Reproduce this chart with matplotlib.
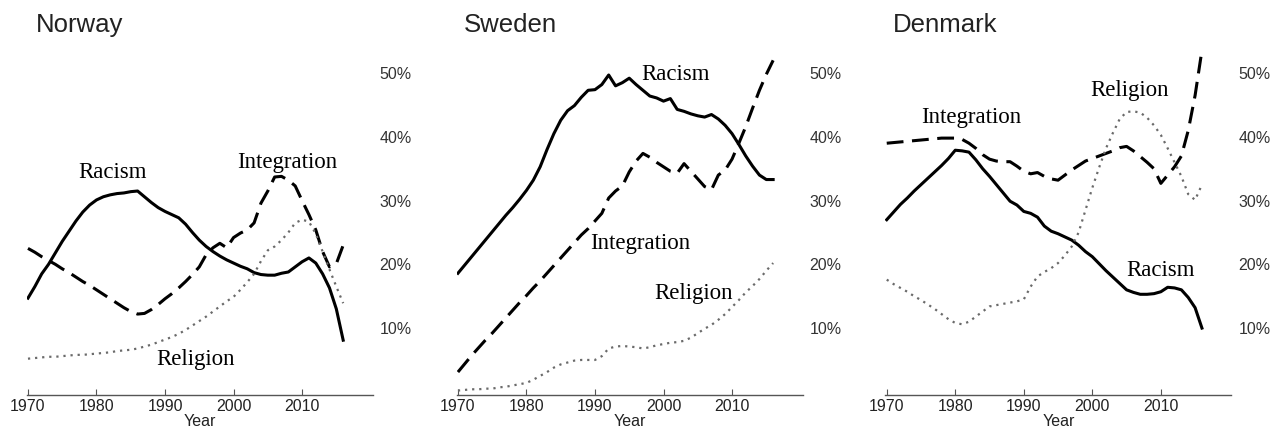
import matplotlib
matplotlib.use('Agg')
import matplotlib.pyplot as plt
import numpy as np

years = list(range(1970, 2017))

# Norway
no_racism = [14.7, 16.5, 18.5, 20.0, 21.8, 23.6, 25.2, 26.8, 28.2, 29.3,
             30.1, 30.6, 30.9, 31.1, 31.2, 31.4, 31.5, 30.6, 29.7, 28.9,
             28.3, 27.8, 27.3, 26.3, 25.0, 23.8, 22.8, 22.0, 21.3, 20.7,
             20.2, 19.7, 19.3, 18.7, 18.4, 18.3, 18.3, 18.6, 18.8, 19.6,
             20.4, 21.0, 20.2, 18.5, 16.3, 13.0, 8.1]
no_integration = [22.5, 21.9, 21.2, 20.6, 20.0, 19.3, 18.7, 18.0, 17.3, 16.7,
                  16.0, 15.3, 14.6, 13.9, 13.2, 12.6, 12.2, 12.3, 12.9, 13.7,
                  14.6, 15.4, 16.3, 17.3, 18.4, 19.6, 21.5, 22.6, 23.3, 22.6,
                  24.2, 24.9, 25.4, 26.5, 29.6, 31.5, 33.7, 33.8, 33.2, 32.3,
                  30.0, 27.8, 25.4, 22.0, 19.6, 20.1, 23.0]
no_religion = [5.2, 5.3, 5.4, 5.5, 5.5, 5.6, 5.7, 5.8, 5.8, 5.9,
               6.0, 6.1, 6.2, 6.4, 6.5, 6.6, 6.8, 7.1, 7.4, 7.8,
               8.2, 8.6, 9.1, 9.7, 10.4, 11.1, 11.8, 12.6, 13.4, 14.2,
               14.9, 16.0, 17.2, 18.5, 20.5, 22.2, 22.8, 23.8, 25.0, 26.5,
               27.0, 26.7, 24.8, 22.0, 19.2, 16.5, 13.9]

# Sweden
se_racism = [18.6, 19.9, 21.2, 22.5, 23.8, 25.1, 26.4, 27.7, 28.9, 30.2,
             31.6, 33.2, 35.3, 38.0, 40.5, 42.6, 44.1, 44.9, 46.2, 47.3,
             47.4, 48.2, 49.7, 48.0, 48.5, 49.2, 48.2, 47.3, 46.4, 46.1,
             45.6, 46.0, 44.3, 44.0, 43.6, 43.3, 43.1, 43.5, 42.8, 41.8,
             40.5, 38.8, 37.0, 35.4, 34.0, 33.3, 33.3]
se_integration = [3.1, 4.4, 5.7, 6.9, 8.1, 9.2, 10.4, 11.6, 12.8, 14.0,
                  15.1, 16.3, 17.4, 18.6, 19.8, 21.0, 22.2, 23.4, 24.6, 25.6,
                  26.8, 28.0, 30.4, 31.5, 32.3, 34.5, 36.2, 37.4, 36.8, 36.0,
                  35.3, 34.6, 34.3, 35.8, 34.6, 33.4, 32.2, 31.7, 34.0, 34.8,
                  36.5, 39.0, 41.6, 44.5, 47.3, 49.8, 52.0]
se_religion = [0.2, 0.3, 0.4, 0.4, 0.5, 0.5, 0.7, 0.8, 1.0, 1.2,
               1.4, 1.9, 2.5, 3.1, 3.8, 4.3, 4.6, 4.9, 5.0, 5.0,
               5.0, 5.6, 6.8, 7.1, 7.2, 7.1, 7.0, 6.8, 7.0, 7.3,
               7.5, 7.7, 7.8, 8.0, 8.5, 9.2, 9.9, 10.5, 11.3, 12.2,
               13.3, 14.4, 15.6, 16.6, 17.7, 19.0, 20.2]

# Denmark
dk_racism = [27.0, 28.2, 29.4, 30.4, 31.5, 32.5, 33.5, 34.5, 35.5, 36.6,
             37.9, 37.8, 37.6, 36.4, 35.0, 33.8, 32.5, 31.2, 29.9, 29.3,
             28.3, 28.0, 27.4, 26.0, 25.2, 24.8, 24.3, 23.8, 23.0, 22.0,
             21.2, 20.1, 19.0, 18.0, 17.0, 16.0, 15.6, 15.3, 15.3, 15.4,
             15.7, 16.4, 16.3, 16.0, 14.8, 13.2, 10.0]
dk_integration = [39.0, 39.1, 39.2, 39.3, 39.4, 39.5, 39.6, 39.7, 39.8, 39.8,
                  39.8, 39.6, 39.0, 38.2, 37.2, 36.5, 36.2, 36.1, 36.1, 35.4,
                  34.6, 34.2, 34.4, 33.8, 33.4, 33.2, 34.0, 34.8, 35.5, 36.2,
                  36.6, 37.0, 37.4, 37.8, 38.3, 38.5, 37.8, 36.9, 36.0, 35.0,
                  32.7, 34.0, 35.3, 37.0, 41.0, 46.5, 53.6]
dk_religion = [17.6, 16.9, 16.3, 15.7, 15.0, 14.4, 13.7, 13.0, 12.2, 11.4,
               10.8, 10.6, 11.0, 11.8, 12.6, 13.4, 13.6, 13.8, 14.0, 14.2,
               14.5, 16.5, 18.1, 18.8, 19.4, 20.2, 21.4, 22.8, 25.0, 28.5,
               32.0, 35.2, 38.2, 40.6, 42.8, 43.9, 44.0, 43.8, 43.0, 41.8,
               40.3, 38.2, 36.0, 33.8, 31.0, 30.1, 32.5]

countries = ["Norway", "Sweden", "Denmark"]
x_ticks = [1970, 1980, 1990, 2000, 2010]
y_ticks = [10, 20, 30, 40, 50]
y_ticklabels = ["10%", "20%", "30%", "40%", "50%"]

# label positions (year, value) per country
label_pos = {
    "Norway": {"Racism": (1982.4, 34.4), "Integration": (2007.9, 35.9), "Religion": (1994.4, 5.0)},
    "Sweden": {"Racism": (2001.7, 49.7), "Integration": (1996.6, 23.3), "Religion": (2004.4, 15.4)},
    "Denmark": {"Racism": (2010.0, 19.1), "Integration": (1982.3, 43.1), "Religion": (2005.5, 47.2)},
}

series = {
    "Norway": (no_racism, no_integration, no_religion),
    "Sweden": (se_racism, se_integration, se_religion),
    "Denmark": (dk_racism, dk_integration, dk_religion),
}

fig = plt.figure(figsize=(12.85, 4.32), dpi=100)
lefts = [0.0207, 0.3553, 0.689]
title_x = [36, 464, 893]

for i, country in enumerate(countries):
    ax = fig.add_axes([lefts[i], 0.0856, 0.2693, 0.819])
    racism, integration, religion = series[country]
    ax.plot(years, racism, color="black", lw=2.2, solid_joinstyle="round")
    ax.plot(years, integration, color="black", lw=2.2, linestyle=(0, (5.5, 2.8)))
    ax.plot(years, religion, color="#6a6a6a", lw=1.6, linestyle=(0, (1, 2.2)))

    ax.set_xlim(1969.8, 2020.3)
    ax.set_ylim(-0.5, 55)
    for s in ["top", "left", "right"]:
        ax.spines[s].set_visible(False)
    ax.spines["bottom"].set_color("#555555")
    ax.spines["bottom"].set_linewidth(1.0)

    ax.set_xticks(x_ticks)
    ax.set_xticklabels([str(t) for t in x_ticks], fontsize=11.5,
                       family="Liberation Sans", color="#222222")
    ax.tick_params(axis="x", direction="in", length=4, color="#555555", pad=3)
    ax.set_xlabel("Year", fontsize=11.5, family="Liberation Sans",
                  color="#222222", labelpad=0)

    ax.yaxis.tick_right()
    ax.set_yticks(y_ticks)
    ax.set_yticklabels(y_ticklabels, fontsize=11.5, family="Liberation Sans",
                       color="#333333")
    ax.tick_params(axis="y", length=0, pad=5)

    for name, (lx, ly) in label_pos[country].items():
        ax.text(lx, ly, name, ha="center", va="center", fontsize=16.5,
                family="Liberation Serif", color="black")

    fig.text(title_x[i] / 1285, 1 - 25 / 432, country, ha="left", va="center",
             fontsize=18.5, family="Liberation Sans", color="#222222")

fig.savefig("out.png", dpi=100)
plt.close(fig)
